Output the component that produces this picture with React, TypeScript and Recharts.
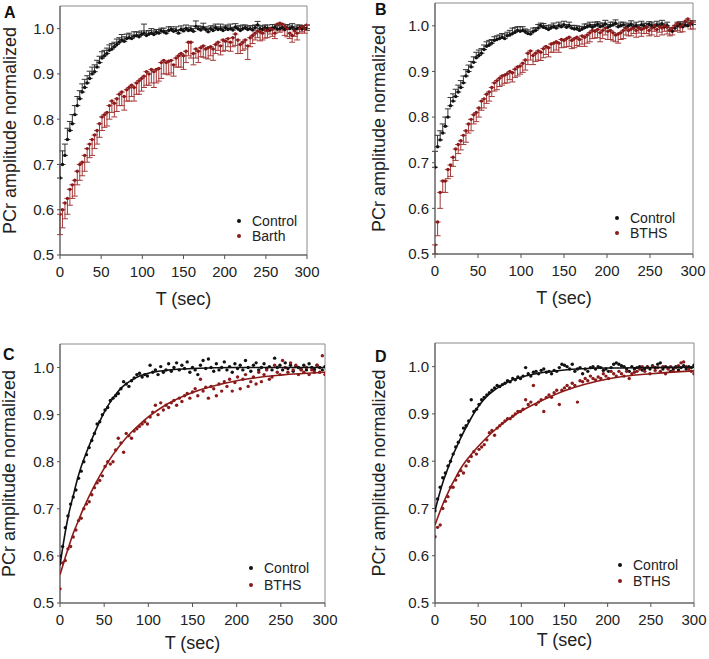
import React from "react"
import {
  ScatterChart,
  Scatter,
  XAxis,
  YAxis,
  ErrorBar,
  ReferenceArea,
  Legend
} from "recharts"

// sampling times (sec) for the recovery curves
const times = [
  0, 3, 6, 9, 12, 15, 18, 21, 24, 27, 30, 33, 36, 39, 42, 45, 48, 51, 54, 57,
  60, 63, 66, 69, 72, 75, 78, 81, 84, 87, 90, 93, 96, 99, 102, 105, 108, 111, 114, 117,
  120, 123, 126, 129, 132, 135, 138, 141, 144, 147, 150, 153, 156, 159, 162, 165, 168, 171, 174, 177,
  180, 183, 186, 189, 192, 195, 198, 201, 204, 207, 210, 213, 216, 219, 222, 225, 228, 231, 234, 237,
  240, 243, 246, 249, 252, 255, 258, 261, 264, 267, 270, 273, 276, 279, 282, 285, 288, 291, 294, 297,
  300
]

const fitTimes = [0, 5, 10, 15, 20, 25, 30, 40, 50, 60, 70, 80, 90, 100, 120, 150, 200, 250, 300]

const xTicks = [0, 50, 100, 150, 200, 250, 300]
const yTicks = [0.5, 0.6, 0.7, 0.8, 0.9, 1.0]

// Panel A
const controlA = [
  0.67, 0.70, 0.72, 0.755, 0.775, 0.79, 0.81, 0.83, 0.845, 0.86,
  0.87, 0.88, 0.89, 0.90, 0.905, 0.915, 0.925, 0.935, 0.94, 0.945,
  0.952, 0.955, 0.96, 0.965, 0.97, 0.975, 0.972, 0.978, 0.98, 0.978,
  0.983, 0.985, 0.982, 0.987, 0.99, 0.985, 0.988, 0.99, 0.987, 0.992,
  0.99, 0.995, 0.993, 0.99, 0.996, 0.998, 0.994, 0.996, 0.99, 0.998,
  0.995, 1.0, 0.996, 0.998, 0.994, 1.005, 1.0, 0.997, 1.002, 0.998,
  0.993, 1.0, 0.996, 1.002, 0.998, 1.0, 0.996, 1.002, 0.998, 1.0,
  0.997, 1.003, 1.0, 0.996, 1.0, 1.002, 0.998, 1.0, 0.997, 1.002,
  1.008, 1.0, 0.998, 1.002, 1.0, 0.997, 1.001, 1.003, 0.999, 1.0,
  1.002, 0.998, 1.001, 1.0, 1.003, 0.998, 1.0, 1.002, 0.999, 1.001,
  1.0
]
const controlAErr = [
  0.03, 0.03, 0.025, 0.025, 0.02, 0.02, 0.02, 0.02, 0.018, 0.018,
  0.018, 0.016, 0.016, 0.015, 0.015, 0.015, 0.014, 0.014, 0.012, 0.012,
  0.012, 0.012, 0.01, 0.012, 0.01, 0.012, 0.01, 0.01, 0.01, 0.008,
  0.01, 0.008, 0.01, 0.008, 0.02, 0.01, 0.008, 0.01, 0.008, 0.006,
  0.008, 0.006, 0.008, 0.006, 0.008, 0.006, 0.006, 0.008, 0.006, 0.008,
  0.006, 0.008, 0.006, 0.008, 0.006, 0.012, 0.006, 0.008, 0.01, 0.006,
  0.008, 0.006, 0.01, 0.008, 0.006, 0.01, 0.008, 0.006, 0.008, 0.01,
  0.006, 0.008, 0.006, 0.01, 0.008, 0.006, 0.008, 0.006, 0.01, 0.006,
  0.008, 0.006, 0.008, 0.006, 0.008, 0.006, 0.008, 0.006, 0.008, 0.006,
  0.008, 0.006, 0.008, 0.006, 0.008, 0.006, 0.008, 0.006, 0.008, 0.006,
  0.008
]
const barthA = [
  0.59, 0.60, 0.615, 0.625, 0.645, 0.655, 0.665, 0.685, 0.70, 0.705,
  0.72, 0.735, 0.745, 0.755, 0.765, 0.775, 0.79, 0.805, 0.81, 0.815,
  0.83, 0.84, 0.835, 0.845, 0.855, 0.86, 0.85, 0.865, 0.87, 0.875,
  0.87, 0.88, 0.885, 0.89, 0.895, 0.905, 0.90, 0.91, 0.905, 0.91,
  0.912, 0.925, 0.93, 0.925, 0.928, 0.93, 0.92, 0.935, 0.94, 0.945,
  0.94, 0.95, 0.97, 0.97, 0.945, 0.955, 0.95, 0.958, 0.962, 0.955,
  0.958, 0.96, 0.955, 0.965, 0.97, 0.962, 0.975, 0.972, 0.978, 0.97,
  0.98, 0.988, 0.975, 0.965, 0.97, 0.975, 0.962, 0.98, 0.985, 0.99,
  0.995, 0.993, 0.99, 0.997, 0.995, 1.0, 0.998, 0.99, 1.01, 1.012,
  1.01, 1.005, 1.0, 0.99, 0.985, 0.995, 0.99, 1.0, 1.005, 1.0,
  1.008
]
const barthAErr = [
  0.045, 0.04, 0.035, 0.035, 0.035, 0.03, 0.035, 0.03, 0.035, 0.03,
  0.035, 0.03, 0.03, 0.035, 0.03, 0.03, 0.03, 0.03, 0.028, 0.03,
  0.03, 0.025, 0.03, 0.028, 0.025, 0.03, 0.03, 0.025, 0.03, 0.025,
  0.03, 0.025, 0.03, 0.028, 0.025, 0.03, 0.025, 0.03, 0.035, 0.03,
  0.028, 0.035, 0.03, 0.025, 0.03, 0.028, 0.025, 0.02, 0.025, 0.03,
  0.03, 0.025, 0.03, 0.035, 0.025, 0.02, 0.025, 0.02, 0.025, 0.02,
  0.025, 0.02, 0.025, 0.02, 0.018, 0.02, 0.025, 0.02, 0.018, 0.02,
  0.02, 0.025, 0.03, 0.02, 0.018, 0.02, 0.03, 0.02, 0.018, 0.015,
  0.015, 0.02, 0.015, 0.018, 0.015, 0.012, 0.015, 0.012, 0.015, 0.02,
  0.015, 0.02, 0.018, 0.012, 0.015, 0.012, 0.015, 0.01, 0.012, 0.01,
  0.012
]

// Panel B
const controlB = [
  0.69, 0.735, 0.75, 0.765, 0.78, 0.80, 0.825, 0.835, 0.845, 0.855,
  0.865, 0.875, 0.89, 0.90, 0.91, 0.92, 0.93, 0.935, 0.94, 0.948,
  0.955, 0.958, 0.962, 0.968, 0.97, 0.972, 0.975, 0.972, 0.978, 0.98,
  0.983, 0.986, 0.99, 0.988, 0.99, 0.987, 0.983, 0.982, 0.987, 0.99,
  0.995, 1.0, 0.997, 0.995, 0.992, 0.996, 0.998, 0.995, 1.0, 0.998,
  1.002, 0.997, 1.0, 0.995, 0.993, 0.994, 0.99, 0.993, 0.996, 0.998,
  1.0, 0.997, 1.0, 1.003, 0.998, 1.0, 1.004, 0.997, 1.0, 1.002,
  1.005, 0.998, 1.0, 1.002, 0.996, 1.0, 1.003, 0.998, 1.0, 0.996,
  1.002, 1.0, 0.997, 1.003, 1.0, 0.998, 1.002, 1.0, 1.004, 0.998,
  1.0, 0.99, 0.988, 0.995, 1.0, 1.003, 0.998, 1.002, 1.0, 1.005,
  1.003
]
const controlBErr = [
  0.035, 0.025, 0.02, 0.02, 0.02, 0.018, 0.018, 0.016, 0.016, 0.015,
  0.015, 0.015, 0.014, 0.014, 0.012, 0.012, 0.012, 0.012, 0.01, 0.01,
  0.01, 0.01, 0.008, 0.008, 0.008, 0.008, 0.008, 0.01, 0.008, 0.01,
  0.012, 0.01, 0.008, 0.01, 0.008, 0.006, 0.008, 0.006, 0.008, 0.006,
  0.008, 0.006, 0.008, 0.006, 0.008, 0.006, 0.008, 0.006, 0.008, 0.006,
  0.008, 0.006, 0.008, 0.006, 0.008, 0.006, 0.008, 0.006, 0.008, 0.006,
  0.008, 0.006, 0.008, 0.006, 0.008, 0.006, 0.008, 0.006, 0.008, 0.006,
  0.008, 0.006, 0.008, 0.006, 0.008, 0.006, 0.008, 0.006, 0.008, 0.006,
  0.008, 0.006, 0.008, 0.006, 0.008, 0.006, 0.008, 0.006, 0.008, 0.006,
  0.008, 0.006, 0.008, 0.006, 0.008, 0.006, 0.008, 0.006, 0.008, 0.006,
  0.008
]
const bthsB = [
  0.52, 0.57, 0.635, 0.66, 0.66, 0.685, 0.695, 0.712, 0.73, 0.74,
  0.748, 0.76, 0.77, 0.785, 0.795, 0.805, 0.81, 0.82, 0.835, 0.84,
  0.85, 0.855, 0.865, 0.875, 0.88, 0.885, 0.89, 0.892, 0.895, 0.90,
  0.897, 0.905, 0.91, 0.912, 0.918, 0.925, 0.94, 0.945, 0.935, 0.94,
  0.945, 0.942, 0.95, 0.955, 0.952, 0.96, 0.962, 0.965, 0.962, 0.97,
  0.968, 0.972, 0.975, 0.968, 0.972, 0.975, 0.97, 0.978, 0.975, 0.98,
  0.985, 0.99, 0.988, 0.992, 0.985, 0.99, 0.995, 0.988, 0.99, 0.985,
  0.98, 0.982, 0.985, 0.99, 0.995, 0.99, 0.993, 0.995, 0.99, 0.996,
  0.992, 0.995, 0.998, 0.99, 0.995, 1.0, 0.992, 0.998, 0.995, 1.0,
  0.997, 0.99, 0.995, 1.0, 1.005, 0.998, 1.002, 1.01, 1.015, 1.005,
  1.008
]
const bthsBErr = [
  0.02, 0.03, 0.035, 0.025, 0.025, 0.02, 0.025, 0.02, 0.025, 0.02,
  0.02, 0.02, 0.025, 0.02, 0.025, 0.02, 0.02, 0.02, 0.02, 0.02,
  0.02, 0.02, 0.02, 0.018, 0.02, 0.018, 0.02, 0.018, 0.02, 0.018,
  0.02, 0.018, 0.02, 0.018, 0.02, 0.022, 0.025, 0.02, 0.02, 0.018,
  0.02, 0.018, 0.02, 0.018, 0.02, 0.018, 0.02, 0.018, 0.02, 0.018,
  0.015, 0.018, 0.02, 0.018, 0.02, 0.018, 0.015, 0.018, 0.02, 0.018,
  0.02, 0.018, 0.015, 0.018, 0.02, 0.018, 0.015, 0.018, 0.02, 0.018,
  0.015, 0.02, 0.015, 0.018, 0.015, 0.012, 0.015, 0.012, 0.015, 0.012,
  0.015, 0.012, 0.015, 0.012, 0.015, 0.012, 0.015, 0.012, 0.015, 0.012,
  0.015, 0.012, 0.015, 0.012, 0.015, 0.012, 0.015, 0.012, 0.015, 0.012,
  0.015
]

// Panel C
const controlC = [
  0.60, 0.62, 0.66, 0.685, 0.71, 0.725, 0.74, 0.765, 0.78, 0.80,
  0.815, 0.83, 0.845, 0.86, 0.88, 0.885, 0.90, 0.91, 0.915, 0.93,
  0.935, 0.94, 0.945, 0.955, 0.97, 0.965, 0.96, 0.972, 0.978, 0.985,
  0.988, 0.98, 0.985, 0.982, 1.005, 0.99, 0.995, 0.985, 1.002, 0.99,
  0.995, 1.008, 0.992, 1.0, 1.01, 0.995, 1.005, 0.998, 1.012, 0.99,
  1.0, 0.995, 0.985, 1.005, 1.015, 0.998, 1.018, 1.0, 0.992, 1.008,
  0.995, 1.0, 1.012, 0.995, 1.002, 0.99, 1.008, 0.998, 1.005, 0.995,
  1.015, 1.0, 0.992, 1.005, 1.01, 0.995, 1.0, 1.008, 0.998, 1.002,
  0.995, 1.02, 1.0, 1.005, 0.995, 1.01, 0.998, 1.005, 0.992, 1.002,
  1.0, 0.996, 1.005, 0.995, 1.008, 1.0, 0.996, 1.005, 1.0, 0.995,
  1.002
]
const bthsC = [
  0.53, 0.585, 0.59, 0.615, 0.62, 0.64, 0.655, 0.675, 0.68, 0.70,
  0.71, 0.715, 0.73, 0.745, 0.755, 0.76, 0.77, 0.79, 0.80, 0.795,
  0.80, 0.825, 0.85, 0.84, 0.82, 0.86, 0.855, 0.85, 0.865, 0.87,
  0.875, 0.88, 0.885, 0.88, 0.895, 0.905, 0.92, 0.90, 0.925, 0.91,
  0.92, 0.915, 0.925, 0.93, 0.92, 0.935, 0.928, 0.94, 0.945, 0.935,
  0.948, 0.955, 0.94, 0.975, 0.95, 0.958, 0.935, 0.96, 0.955, 0.94,
  0.965, 0.95, 0.97, 0.96, 0.975, 0.95, 0.968, 0.98, 0.955, 0.975,
  0.985, 0.96, 0.97, 0.98, 0.965, 0.99, 0.97, 0.985, 0.995, 0.975,
  0.98, 1.005, 0.99, 0.985, 1.015, 1.0, 0.99, 1.01, 0.995, 1.005,
  0.985, 0.995, 0.99, 1.0, 0.985, 0.995, 0.99, 1.005, 0.99, 1.025,
  0.985
]
const controlCFit = [0.58, 0.64, 0.69, 0.728, 0.765, 0.795, 0.82, 0.865, 0.905, 0.935, 0.958, 0.972, 0.982, 0.988, 0.994, 0.998, 1.0, 1.0, 1.0]
const bthsCFit = [0.56, 0.591, 0.62, 0.648, 0.671, 0.694, 0.715, 0.753, 0.786, 0.815, 0.84, 0.861, 0.879, 0.895, 0.921, 0.947, 0.972, 0.984, 0.99]

// Panel D
const controlD = [
  0.695, 0.72, 0.745, 0.765, 0.775, 0.79, 0.80, 0.815, 0.83, 0.84,
  0.855, 0.87, 0.875, 0.885, 0.93, 0.905, 0.91, 0.92, 0.93, 0.935,
  0.94, 0.945, 0.95, 0.955, 0.96, 0.958, 0.962, 0.965, 0.97, 0.968,
  0.975, 0.972, 0.978, 0.975, 0.98, 0.998, 0.985, 0.98, 0.988, 0.99,
  0.985, 0.992, 0.995, 0.988, 0.99, 0.985, 0.992, 0.99, 0.998, 1.005,
  1.003, 1.0, 0.995, 1.005, 0.99, 0.995, 0.998, 0.985, 0.995, 0.99,
  0.998, 1.0, 0.995, 1.0, 0.998, 0.992, 0.995, 0.99, 0.998, 1.005,
  1.008, 1.005, 1.002, 1.0, 0.995, 0.99, 1.0, 0.995, 0.998, 1.0,
  0.993, 0.996, 1.0, 0.995, 1.002, 0.998, 1.005, 1.008, 0.995, 1.0,
  0.997, 0.99, 0.995, 1.0, 0.993, 0.998, 1.002, 0.995, 1.0, 0.998,
  1.003
]
const bthsD = [
  0.64, 0.66, 0.665, 0.70, 0.715, 0.725, 0.745, 0.745, 0.76, 0.77,
  0.78, 0.775, 0.79, 0.80, 0.81, 0.82, 0.815, 0.825, 0.83, 0.835,
  0.845, 0.86, 0.865, 0.855, 0.87, 0.875, 0.88, 0.885, 0.89, 0.89,
  0.895, 0.90, 0.905, 0.905, 0.91, 0.93, 0.92, 0.925, 0.96, 0.92,
  0.925, 0.93, 0.905, 0.935, 0.94, 0.935, 0.945, 0.95, 0.92, 0.95,
  0.955, 0.96, 0.955, 0.965, 0.96, 0.925, 0.97, 0.968, 0.975, 0.97,
  0.98, 0.975, 0.972, 0.978, 0.975, 0.985, 0.98, 0.975, 0.99, 0.985,
  0.98, 0.99, 0.985, 0.98, 0.99, 0.975, 0.985, 0.988, 0.99, 0.995,
  1.0, 0.99, 0.998, 0.985, 1.0, 0.992, 0.998, 0.99, 1.0, 0.985,
  0.995, 1.0, 0.99, 0.998, 1.002, 1.008, 1.01, 1.0, 0.995, 0.99,
  0.985
]
const controlDFit = [0.695, 0.73, 0.76, 0.785, 0.81, 0.83, 0.85, 0.885, 0.915, 0.937, 0.952, 0.963, 0.972, 0.978, 0.986, 0.993, 0.997, 0.998, 0.999]
const bthsDFit = [0.665, 0.69, 0.713, 0.733, 0.752, 0.769, 0.785, 0.81, 0.831, 0.85, 0.867, 0.882, 0.895, 0.906, 0.925, 0.949, 0.974, 0.985, 0.991]

const FONT = '"Liberation Sans", Arial, Helvetica, sans-serif'
const BLACK = "#111111"
const RED = "#8b1a1a"
const AXIS = "#555555"

type Pt = { t: number; v: number; err?: [number, number] }

const withBars = (values: number[], errs: number[], up: boolean): Pt[] =>
  times.map((t, i) => ({ t, v: values[i], err: up ? [0, errs[i]] : [errs[i], 0] }))

const plain = (ts: number[], values: number[]): Pt[] =>
  ts.map((t, i) => ({ t, v: values[i] }))

const dot = (color: string) => (props: any) =>
  <circle cx={props.cx} cy={props.cy} r={1.7} fill={color} />

interface PanelCfg {
  letter: string
  left: number
  top: number
  width: number
  height: number
  margin: { top: number; right: number; bottom: number; left: number }
  yAxisWidth: number
  letterPos: [number, number]
  yLabelX: number
  xLabelY: number
  legendPos: [number, number]
  legendGap: number
  labels: [string, string]
  control: Pt[]
  patient: Pt[]
  bars: boolean
  controlFit?: Pt[]
  patientFit?: Pt[]
}

const X_AXIS_H = 40

const panels: PanelCfg[] = [
  {
    letter: "A", left: 0, top: 0, width: 354, height: 330,
    margin: { top: 6, right: 47, bottom: 35, left: 0 }, yAxisWidth: 60,
    letterPos: [4, 18], yLabelX: 15.5, xLabelY: 304.5,
    legendPos: [237, 213.5], legendGap: 15, labels: ["Control", "Barth"],
    control: withBars(controlA, controlAErr, true),
    patient: withBars(barthA, barthAErr, false),
    bars: true
  },
  {
    letter: "B", left: 354, top: 0, width: 355, height: 330,
    margin: { top: 3, right: 16, bottom: 36, left: 0 }, yAxisWidth: 81,
    letterPos: [21, 15], yLabelX: 31, xLabelY: 304,
    legendPos: [261, 210.5], legendGap: 15, labels: ["Control", "BTHS"],
    control: withBars(controlB, controlBErr, true),
    patient: withBars(bthsB, bthsBErr, false),
    bars: true
  },
  {
    letter: "C", left: 0, top: 330, width: 354, height: 329,
    margin: { top: 14, right: 29, bottom: 16, left: 0 }, yAxisWidth: 60,
    letterPos: [3, 30], yLabelX: 15, xLabelY: 319,
    legendPos: [249, 230], legendGap: 16.5, labels: ["Control", "BTHS"],
    control: plain(times, controlC),
    patient: plain(times, bthsC),
    bars: false,
    controlFit: plain(fitTimes, controlCFit),
    patientFit: plain(fitTimes, bthsCFit)
  },
  {
    letter: "D", left: 354, top: 330, width: 355, height: 329,
    margin: { top: 13, right: 15, bottom: 16, left: 0 }, yAxisWidth: 81,
    letterPos: [21, 32], yLabelX: 31, xLabelY: 316,
    legendPos: [264, 227], legendGap: 16, labels: ["Control", "BTHS"],
    control: plain(times, controlD),
    patient: plain(times, bthsD),
    bars: false,
    controlFit: plain(fitTimes, controlDFit),
    patientFit: plain(fitTimes, bthsDFit)
  }
]

function LegendBox({ labels, gap }: { labels: [string, string]; gap: number }) {
  const colors = [BLACK, RED]
  return (
    <div style={{ fontFamily: FONT, fontSize: 14, color: "#222" }}>
      {labels.map((l, i) => (
        <div key={l} style={{ display: "flex", alignItems: "center", height: gap, lineHeight: `${gap}px` }}>
          <span style={{ width: 4, height: 4, borderRadius: 2, background: colors[i], display: "inline-block" }} />
          <span style={{ marginLeft: 11 }}>{l}</span>
        </div>
      ))}
    </div>
  )
}

function Panel({ cfg }: { cfg: PanelCfg }) {
  const plotLeft = cfg.margin.left + cfg.yAxisWidth
  const plotRight = cfg.width - cfg.margin.right
  const plotTop = cfg.margin.top
  const plotBottom = cfg.height - cfg.margin.bottom - X_AXIS_H
  const midX = (plotLeft + plotRight) / 2
  const midY = (plotTop + plotBottom) / 2

  return (
    <div style={{ position: "absolute", left: cfg.left, top: cfg.top }}>
      <ScatterChart width={cfg.width} height={cfg.height} margin={cfg.margin}>
        <XAxis
          type="number"
          dataKey="t"
          domain={[0, 300]}
          ticks={xTicks}
          interval={0}
          allowDataOverflow
          height={X_AXIS_H}
          tickSize={4}
          tickMargin={7}
          axisLine={{ stroke: AXIS }}
          tickLine={{ stroke: AXIS }}
          tick={{ fontSize: 15, fill: "#222", fontFamily: FONT }}
          label={() => (
            <text x={midX} y={cfg.xLabelY} textAnchor="middle" fontSize={18} fill="#222" fontFamily={FONT}>
              T (sec)
            </text>
          )}
        />
        <YAxis
          type="number"
          dataKey="v"
          domain={[0.5, 1.05]}
          ticks={yTicks}
          interval={0}
          allowDataOverflow
          width={cfg.yAxisWidth}
          tickSize={3}
          tickMargin={3}
          tickFormatter={(v: number) => v.toFixed(1)}
          axisLine={{ stroke: AXIS }}
          tickLine={{ stroke: AXIS }}
          tick={{ fontSize: 15, fill: "#222", fontFamily: FONT }}
          label={() => (
            <g>
              <text
                x={cfg.yLabelX}
                y={midY}
                transform={`rotate(-90 ${cfg.yLabelX} ${midY})`}
                textAnchor="middle"
                fontSize={18}
                fill="#222"
                fontFamily={FONT}
              >
                PCr amplitude normalized
              </text>
              <text x={cfg.letterPos[0]} y={cfg.letterPos[1]} fontSize={16} fontWeight="bold" fill="#111" fontFamily={FONT}>
                {cfg.letter}
              </text>
            </g>
          )}
        />
        <ReferenceArea x1={0} x2={300} y1={0.5} y2={1.05} fill="none" stroke="#8a8a8a" ifOverflow="visible" />

        <Scatter data={cfg.control} fill={BLACK} shape={dot(BLACK)} isAnimationActive={false}>
          {cfg.bars && <ErrorBar dataKey="err" direction="y" width={3} stroke="#333" strokeWidth={1} />}
        </Scatter>
        <Scatter data={cfg.patient} fill={RED} shape={dot(RED)} isAnimationActive={false}>
          {cfg.bars && <ErrorBar dataKey="err" direction="y" width={3} stroke="#a53a3a" strokeWidth={1} />}
        </Scatter>

        {cfg.controlFit && (
          <Scatter
            data={cfg.controlFit}
            line={{ stroke: BLACK, strokeWidth: 1.6 }}
            lineJointType="monotoneX"
            shape={() => <g />}
            isAnimationActive={false}
          />
        )}
        {cfg.patientFit && (
          <Scatter
            data={cfg.patientFit}
            line={{ stroke: RED, strokeWidth: 1.6 }}
            lineJointType="monotoneX"
            shape={() => <g />}
            isAnimationActive={false}
          />
        )}

        <Legend
          layout="vertical"
          align="center"
          verticalAlign="middle"
          wrapperStyle={{ left: cfg.legendPos[0], top: cfg.legendPos[1], width: "auto", height: "auto" }}
          content={() => <LegendBox labels={cfg.labels} gap={cfg.legendGap} />}
        />
      </ScatterChart>
    </div>
  )
}

export default function App() {
  return (
    <div style={{ position: "absolute", left: 0, top: 0, width: 709, height: 659, background: "#fff" }}>
      {panels.map(p => <Panel key={p.letter} cfg={p} />)}
    </div>
  )
}
